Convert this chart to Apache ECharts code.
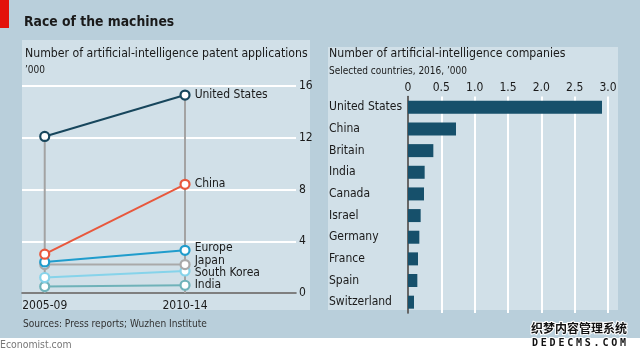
<!DOCTYPE html>
<html>
<head>
<meta charset="utf-8">
<script src="https://cdn.jsdelivr.net/npm/echarts@6/dist/echarts.min.js"></script>
<style>
html,body{margin:0;padding:0;background:#fff;}
#c{width:640px;height:356px;}
</style>
</head>
<body>
<div id="c"></div>
<script>
// ---- data ----
var periods = ['2005-09', '2010-14'];
var patentSeriesNames = ['India', 'South Korea', 'Japan', 'Europe', 'China', 'United States'];
var patentIndia = [0.5, 0.6];
var patentSouthKorea = [1.2, 1.7];
var patentJapan = [2.2, 2.2];
var patentEurope = [2.4, 3.3];
var patentChina = [3.0, 8.4];
var patentUS = [12.1, 15.3];
var patentTicks = [0, 4, 8, 12, 16];

var companyCountries = ['United States', 'China', 'Britain', 'India', 'Canada', 'Israel', 'Germany', 'France', 'Spain', 'Switzerland'];
var companyCounts = [2.91, 0.72, 0.38, 0.25, 0.24, 0.19, 0.17, 0.15, 0.14, 0.09];
var companyTicks = [0, 0.5, 1.0, 1.5, 2.0, 2.5, 3.0];

// ---- styles ----
var FONT = '"DejaVu Sans Condensed","Liberation Sans",sans-serif';
var TXT = '#1a1a1a';
var patentData = [patentIndia, patentSouthKorea, patentJapan, patentEurope, patentChina, patentUS];
var colors = ['#6fb2b9', '#86d3ea', '#a9a9a9', '#1f9ccc', '#e8583d', '#17465c'];
var labelOffsets = [[0, 0], [0, 2], [0, -4], [0, -2], [0, 0], [0, 0]];

var chart = echarts.init(document.getElementById('c'), null, {renderer: 'canvas'});

var series = [];
// vertical grey stems from 0 to the highest value of each period
periods.forEach(function (p, i) {
  var top = Math.max.apply(null, patentData.map(function (d) { return d[i]; }));
  series.push({
    type: 'line', xAxisIndex: 0, yAxisIndex: 0, silent: true,
    data: [[i, 0], [i, top]], symbol: 'none',
    lineStyle: {color: '#a3a3a3', width: 2}, z: 1
  });
});
patentSeriesNames.forEach(function (name, k) {
  var vals = patentData[k];
  series.push({
    type: 'line', name: name, xAxisIndex: 0, yAxisIndex: 0,
    data: vals.map(function (v, i) {
      var item = {value: [i, v]};
      if (i === vals.length - 1) {
        item.label = {show: true, position: 'right', distance: 4, formatter: name,
          color: TXT, fontFamily: FONT, fontSize: 12, offset: labelOffsets[k]};
      }
      return item;
    }),
    symbol: 'circle', symbolSize: 9,
    itemStyle: {color: '#ffffff', borderColor: colors[k], borderWidth: 2.2},
    lineStyle: {color: colors[k], width: 2},
    label: {show: false},
    z: 3 + k
  });
});
series.push({
  type: 'bar', xAxisIndex: 1, yAxisIndex: 1,
  data: companyCounts, barWidth: 13,
  itemStyle: {color: '#16506b'}
});

var graphics = [
  {type: 'rect', shape: {x: 0, y: 338, width: 640, height: 18}, style: {fill: '#ffffff'}, z: -10},
  {type: 'rect', shape: {x: 22, y: 40, width: 288, height: 270}, style: {fill: '#d1e0e8'}, z: -10},
  {type: 'rect', shape: {x: 328, y: 47, width: 290, height: 263}, style: {fill: '#d1e0e8'}, z: -10},
  {type: 'rect', shape: {x: 0, y: 0, width: 9, height: 28}, style: {fill: '#e3120b'}},
  {type: 'text', x: 24, y: 22, style: {text: 'Race of the machines', fill: TXT, font: 'bold 13.8px ' + FONT, textVerticalAlign: 'middle'}},
  {type: 'text', x: 25, y: 54, style: {text: 'Number of artificial-intelligence patent applications', fill: TXT, font: '12.2px ' + FONT, textVerticalAlign: 'middle'}},
  {type: 'text', x: 25, y: 70, style: {text: '\u2019000', fill: TXT, font: '10px ' + FONT, textVerticalAlign: 'middle'}},
  {type: 'text', x: 329, y: 54, style: {text: 'Number of artificial-intelligence companies', fill: TXT, font: '12.2px ' + FONT, textVerticalAlign: 'middle'}},
  {type: 'text', x: 329, y: 71, style: {text: 'Selected countries, 2016, \u2019000', fill: TXT, font: '10px ' + FONT, textVerticalAlign: 'middle'}},
  {type: 'text', x: 23, y: 324, style: {text: 'Sources: Press reports; Wuzhen Institute', fill: '#333', font: '10.1px ' + FONT, textVerticalAlign: 'middle'}},
  {type: 'text', x: 0, y: 345, style: {text: 'Economist.com', fill: '#777', font: '10.4px ' + FONT, textVerticalAlign: 'middle'}},
  {type: 'text', x: 531, y: 328, style: {text: '织梦内容管理系统', fill: '#111', stroke: '#fff', lineWidth: 2, font: 'bold 12px "Noto Sans CJK SC"', textVerticalAlign: 'middle'}}
];
'DEDECMS.COM'.split('').forEach(function (ch, i) {
  graphics.push({type: 'text', x: 532 + i * 8.8, y: 343,
    style: {text: ch, fill: '#111', stroke: '#fff', lineWidth: 2, font: 'bold 10px "DejaVu Sans Mono"', textVerticalAlign: 'middle'}});
});

var option = {
  animation: false,
  backgroundColor: '#b9cfdb',
  textStyle: {fontFamily: FONT},
  graphic: graphics,
  grid: [
    {left: 22, right: 344, top: 86, bottom: 63},
    {left: 408, right: 32, top: 96.5, bottom: 43}
  ],
  xAxis: [
    {
      type: 'value', gridIndex: 0, min: -0.162, max: 1.791,
      splitLine: {show: false},
      axisLine: {show: true, onZero: false, lineStyle: {color: '#555', width: 1.5}},
      axisTick: {show: false},
      axisLabel: {
        customValues: periods.map(function (p, i) { return i; }),
        formatter: function (v) { return periods[Math.round(v)] || ''; },
        color: TXT, fontSize: 12, fontFamily: FONT, margin: 7
      }
    },
    {
      type: 'value', gridIndex: 1, position: 'top', min: 0, max: 3, interval: 0.5,
      splitLine: {show: true, lineStyle: {color: '#ffffff', width: 2}},
      axisLine: {show: false}, axisTick: {show: false},
      axisLabel: {
        formatter: function (v) { return v === 0 ? '0' : v.toFixed(1); },
        color: TXT, fontSize: 12, fontFamily: FONT, margin: 3
      }
    }
  ],
  yAxis: [
    {
      type: 'value', gridIndex: 0, position: 'right', min: 0, max: 16, interval: 4,
      splitLine: {show: true, lineStyle: {color: '#ffffff', width: 2}},
      axisLine: {show: false}, axisTick: {show: false},
      axisLabel: {color: TXT, fontSize: 12, fontFamily: FONT, margin: 3, align: 'left'}
    },
    {
      type: 'category', gridIndex: 1, data: companyCountries, inverse: true,
      axisLine: {show: true, lineStyle: {color: '#333', width: 1.5}},
      axisTick: {show: false},
      axisLabel: {color: TXT, fontSize: 12, fontFamily: FONT, margin: 79, align: 'left'}
    }
  ],
  series: series
};
chart.setOption(option);
</script>
</body>
</html>
